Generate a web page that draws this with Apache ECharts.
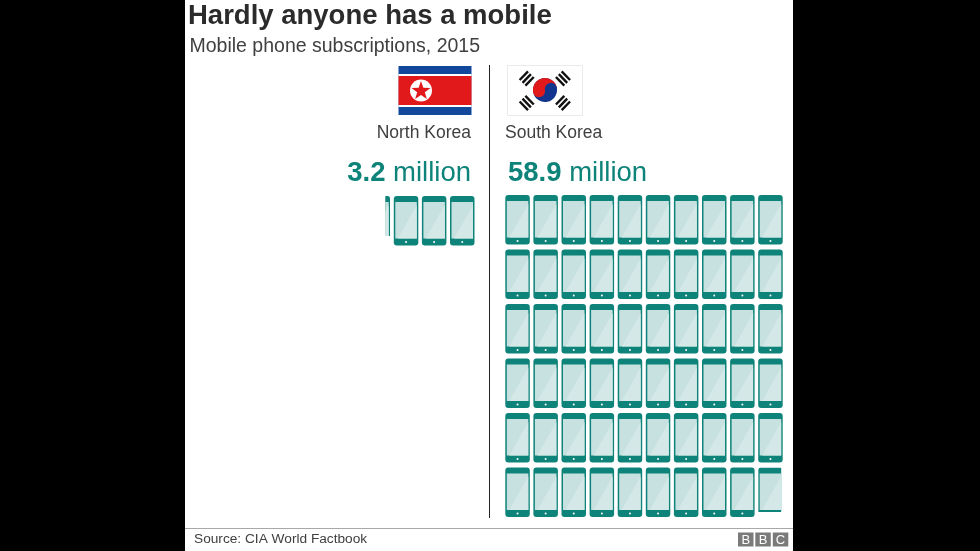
<!DOCTYPE html>
<html>
<head>
<meta charset="utf-8">
<style>html,body{margin:0;padding:0;background:#000}#chart{width:980px;height:551px}</style>
<script src="https://cdn.jsdelivr.net/npm/echarts@6/dist/echarts.min.js"></script>
</head>
<body>
<div id="chart"></div>
<script>
const countries = ['North Korea', 'South Korea'];
const subscriptions = [3.2, 58.9];  // millions
const titleText = 'Hardly anyone has a mobile';
const subtitleText = 'Mobile phone subscriptions, 2015';
const sourceText = 'Source: CIA World Factbook';

// how much of each phone icon is drawn
const northPhones = [
  [0, 0, 0, 0, 0, 0, 0.2, 1, 1, 1]
];
const southPhones = [
  [1, 1, 1, 1, 1, 1, 1, 1, 1, 1],
  [1, 1, 1, 1, 1, 1, 1, 1, 1, 1],
  [1, 1, 1, 1, 1, 1, 1, 1, 1, 1],
  [1, 1, 1, 1, 1, 1, 1, 1, 1, 1],
  [1, 1, 1, 1, 1, 1, 1, 1, 1, 1],
  [1, 1, 1, 1, 1, 1, 1, 1, 1, 0.9]
];
const COLS = 10, ROWS = 6;

const teal = '#0e8379';
const font = '"Liberation Sans", Arial, sans-serif';

function cells(rows) {
  let out = [];
  rows.forEach((row, r) => row.forEach((v, c) => {
    if (v > 0) out.push([c, r, v]);
  }));
  return out;
}

function renderPhone(params, api, side) {
  let p = api.coord([api.value(0), api.value(1)]);
  let fill = api.value(2);
  let w = 24.5, h = 49.5;
  let children = [
    { type: 'rect', shape: { x: 0, y: 0, width: w, height: h, r: 3 }, style: { fill: teal } },
    { type: 'rect', shape: { x: 1.5, y: 6, width: w - 3, height: h - 13 }, style: { fill: '#c6e1df' } },
    { type: 'polygon', shape: { points: [[w - 1.5, 9], [w - 1.5, h - 7], [4, h - 7]] }, style: { fill: '#d4e9e7' } },
    { type: 'circle', shape: { cx: w / 2, cy: h - 3.5, r: 1 }, style: { fill: '#fff' } }
  ];
  let g = { type: 'group', x: p[0], y: p[1], children: children };
  if (fill < 1) {
    // north keeps a right hand slice, south loses its bottom and right edge
    g.clipPath = side === 0
      ? { type: 'rect', shape: { x: w * (1 - fill), y: 0, width: w * fill, height: 40 } }
      : { type: 'rect', shape: { x: 0, y: 0, width: w - 1.5, height: h * fill } };
  }
  return g;
}

function trigram(cx, cy, rot) {
  return {
    type: 'group', x: cx, y: cy, rotation: rot,
    children: [-4, 0, 4].map(b => ({
      type: 'rect', shape: { x: -6, y: b - 1.2, width: 12, height: 2.4 }, style: { fill: '#111' }
    }))
  };
}

function starPoints(cx, cy, r) {
  let pts = [];
  for (let i = 0; i < 10; i++) {
    let rad = i % 2 ? r * 0.4 : r;
    let a = -Math.PI / 2 + i * Math.PI / 5;
    pts.push([cx + rad * Math.cos(a), cy + rad * Math.sin(a)]);
  }
  return pts;
}

function numberLabel(i, x, align) {
  return {
    type: 'text', x: x, y: 173,
    style: {
      text: '{b|' + subscriptions[i].toFixed(1) + '}{r| million}',
      align: align, verticalAlign: 'middle',
      rich: {
        b: { fontWeight: 'bold', fontSize: 27.5, fontFamily: font, fill: teal },
        r: { fontSize: 27.5, fontFamily: font, fill: teal }
      }
    }
  };
}

function axes(n) {
  return [0, 1].map(i => ({
    type: 'value', gridIndex: i, min: 0, max: n, inverse: n === ROWS, show: false
  }));
}

let option = {
  backgroundColor: '#000',
  animation: false,
  title: [
    { text: titleText, left: 188, top: 2, padding: 0, textStyle: { fontFamily: font, fontSize: 27.5, fontWeight: 'bold', color: '#2b2b2b' } },
    { text: subtitleText, left: 189.5, top: 37, padding: 0, textStyle: { fontFamily: font, fontSize: 19.5, fontWeight: 'normal', color: '#404040' } }
  ],
  grid: [
    { left: 197.1, top: 196, width: 281, height: 327 },
    { left: 505.3, top: 195, width: 281, height: 327 }
  ],
  xAxis: axes(COLS),
  yAxis: axes(ROWS),
  series: [northPhones, southPhones].map((rows, i) => ({
    type: 'custom',
    coordinateSystem: 'cartesian2d',
    xAxisIndex: i, yAxisIndex: i,
    clip: false,
    z: 5,
    data: cells(rows),
    renderItem: (params, api) => renderPhone(params, api, i)
  })),
  graphic: [
    { type: 'rect', z: -1, shape: { x: 185, y: 0, width: 608, height: 551 }, style: { fill: '#fff' } },
    // divider and footer
    { type: 'line', shape: { x1: 489.5, y1: 65, x2: 489.5, y2: 518 }, style: { stroke: '#222', lineWidth: 1 } },
    { type: 'line', shape: { x1: 185, y1: 528.5, x2: 793, y2: 528.5 }, style: { stroke: '#a8a8a8', lineWidth: 1 } },
    { type: 'text', x: 194, y: 539, style: { text: sourceText, font: '13.7px ' + font, fill: '#404040', verticalAlign: 'middle' } },
    // north flag
    { type: 'rect', shape: { x: 398.5, y: 66, width: 73, height: 49 }, style: { fill: '#12489b' } },
    { type: 'rect', shape: { x: 398.5, y: 74, width: 73, height: 33 }, style: { fill: '#fff' } },
    { type: 'rect', shape: { x: 398.5, y: 76, width: 73, height: 29 }, style: { fill: '#e2191b' } },
    { type: 'circle', shape: { cx: 421, cy: 90.5, r: 11 }, style: { fill: '#fff' } },
    { type: 'polygon', shape: { points: starPoints(421, 91, 10) }, style: { fill: '#e2191b' } },
    // south flag
    { type: 'rect', shape: { x: 507.5, y: 65.5, width: 75, height: 50 }, style: { fill: '#fff', stroke: '#eaeaea', lineWidth: 1 } },
    {
      type: 'group', x: 545, y: 90, rotation: 0.2,
      children: [
        { type: 'circle', shape: { cx: 0, cy: 0, r: 12 }, style: { fill: '#12358f' } },
        { type: 'sector', shape: { cx: 0, cy: 0, r: 12, startAngle: Math.PI, endAngle: 2 * Math.PI }, style: { fill: '#e2191b' } },
        { type: 'circle', shape: { cx: -6, cy: 0, r: 6 }, style: { fill: '#e2191b' } },
        { type: 'circle', shape: { cx: 6, cy: 0, r: 6 }, style: { fill: '#12358f' } }
      ]
    },
    trigram(526.7, 78.5, 0.8),
    trigram(563, 78.5, -0.8),
    trigram(526.7, 103, -0.8),
    trigram(563, 103, 0.8),
    // labels
    { type: 'text', x: 471, y: 133, style: { text: countries[0], font: '17.5px ' + font, fill: '#404040', align: 'right', verticalAlign: 'middle' } },
    { type: 'text', x: 505, y: 133, style: { text: countries[1], font: '17.5px ' + font, fill: '#404040', align: 'left', verticalAlign: 'middle' } },
    numberLabel(0, 471, 'right'),
    numberLabel(1, 508, 'left'),
    // BBC blocks
    ...[738, 755.3, 772.8].map((x, i) => ({
      type: 'group', children: [
        { type: 'rect', shape: { x: x, y: 532.5, width: 15.5, height: 14 }, style: { fill: '#7a7a7a' } },
        { type: 'text', x: x + 7.75, y: 540, style: { text: 'BBC'[i], font: '13px ' + font, fill: '#fff', align: 'center', verticalAlign: 'middle' } }
      ]
    }))
  ]
};

let myChart = echarts.init(document.getElementById('chart'));
myChart.setOption(option);
</script>
</body>
</html>
